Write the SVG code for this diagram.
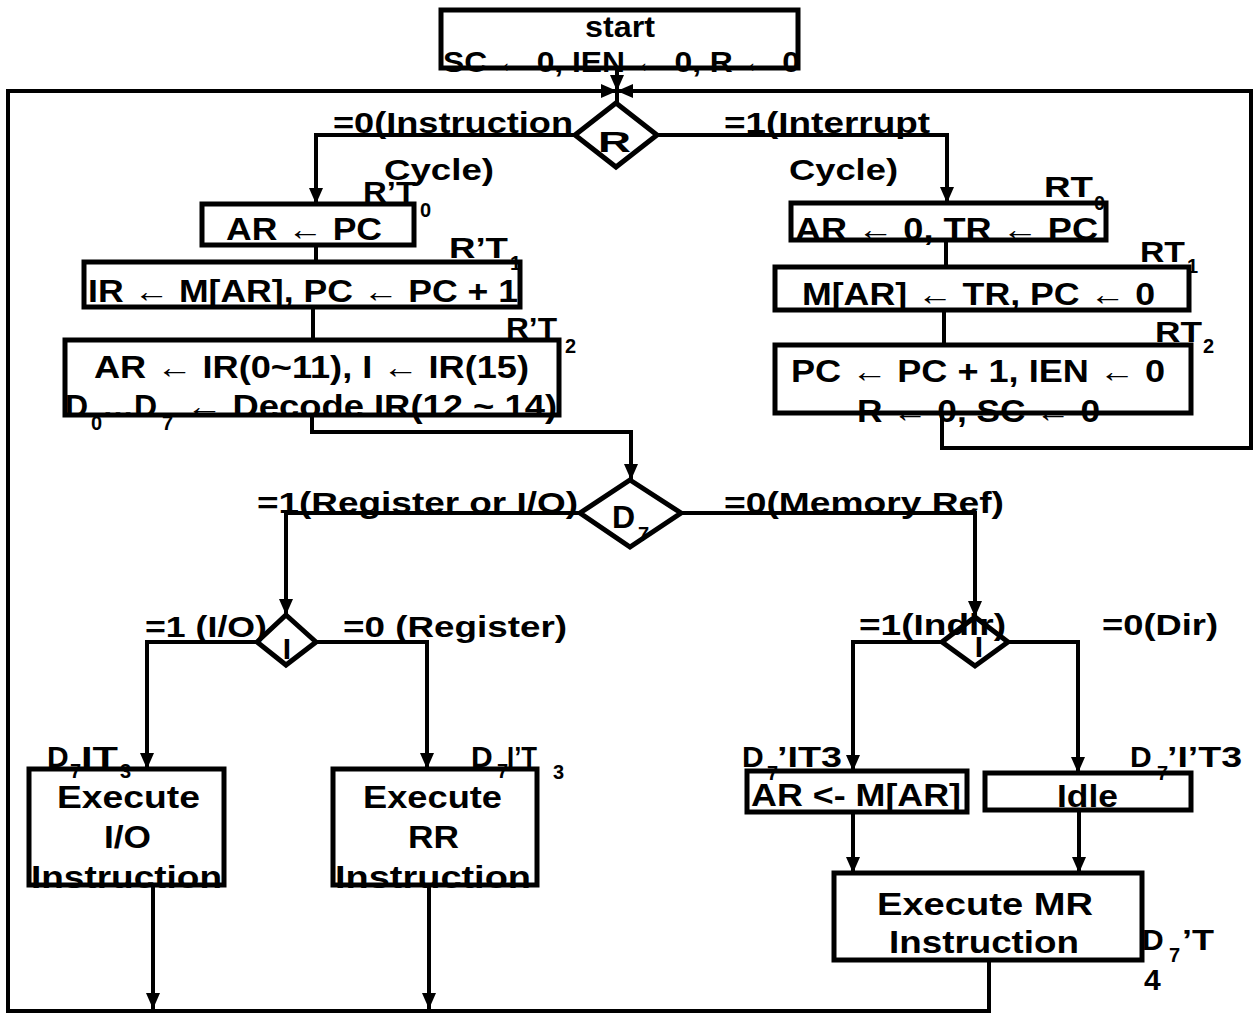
<svg xmlns="http://www.w3.org/2000/svg" width="1259" height="1016" viewBox="0 0 1259 1016">
<style>
text{font-family:"Liberation Sans",Arial,sans-serif;font-weight:bold;fill:#000}
.bt{font-size:32px}
.lb{font-size:30px}
.sub{font-size:20px}
.box{fill:#fff;stroke:#000;stroke-width:5}
.dia{fill:#fff;stroke:#000;stroke-width:5;stroke-linejoin:miter}
.c{fill:none;stroke:#000;stroke-width:4}
.ca{fill:none;stroke:#000;stroke-width:4;marker-end:url(#ah)}
</style>
<defs>
<marker id="ah" markerUnits="userSpaceOnUse" markerWidth="16" markerHeight="14" refX="16" refY="7" orient="auto">
<path d="M0,0 L16,7 L0,14 z" fill="#000"/>
</marker>
</defs>
<rect width="1259" height="1016" fill="#fff"/>
<g id="connectors">
<path class="ca" d="M617 68 V91"/>
<path class="ca" d="M989 960 V1011 H8 V91 H617"/>
<path class="ca" d="M942 413 V448 H1251 V91 H617"/>
<path class="c" d="M617 91 V103"/>
<path class="ca" d="M575 135 H316 V204"/>
<path class="ca" d="M657 135 H947 V203"/>
<path class="c" d="M316 245 V262"/>
<path class="c" d="M313 307 V340"/>
<path class="ca" d="M312 415 V432 H631 V480"/>
<path class="ca" d="M580 513 H286 V615"/>
<path class="ca" d="M681 513 H975 V617"/>
<path class="ca" d="M257 642 H147 V769"/>
<path class="ca" d="M316 642 H427 V769"/>
<path class="ca" d="M942 642 H853 V771"/>
<path class="ca" d="M1008 642 H1078 V773"/>
<path class="ca" d="M153 885 V1009"/>
<path class="ca" d="M429 885 V1009"/>
<path class="ca" d="M853 812 V873"/>
<path class="ca" d="M1079 810 V873"/>
<path class="c" d="M946 240 V267"/>
<path class="c" d="M944 310 V345"/>
</g>
<g id="start">
<rect class="box" x="441" y="10" width="357" height="58"/>
<text class="lb" x="585" y="37" font-size="28" textLength="70" lengthAdjust="spacingAndGlyphs">start</text>
<text class="lb" x="443" y="72" textLength="357" lengthAdjust="spacingAndGlyphs">SC ← 0, IEN ← 0, R ← 0</text>
</g>
<g id="decisionR">
<polygon class="dia" points="616,103 657,135 616,167 575,135"/>
<text class="lb" x="598" y="152" textLength="33" lengthAdjust="spacingAndGlyphs">R</text>
</g>
<g id="labelsR">
<text class="lb" x="333" y="133" textLength="240" lengthAdjust="spacingAndGlyphs">=0(Instruction</text>
<text class="lb" x="384" y="180" textLength="110" lengthAdjust="spacingAndGlyphs">Cycle)</text>
<text class="lb" x="724" y="133" textLength="206" lengthAdjust="spacingAndGlyphs">=1(Interrupt</text>
<text class="lb" x="789" y="180" textLength="109" lengthAdjust="spacingAndGlyphs">Cycle)</text>
</g>
<g id="fetch0">
<rect class="box" x="202" y="204" width="212" height="41"/>
<text class="bt" x="226" y="240" textLength="156" lengthAdjust="spacingAndGlyphs">AR ← PC</text>
<text class="lb" x="363" y="202"><tspan textLength="53" lengthAdjust="spacingAndGlyphs">R’T</tspan><tspan class="sub" x="420" y="217">0</tspan></text>
</g>
<g id="fetch1">
<rect class="box" x="84" y="262" width="436" height="45"/>
<text class="bt" x="88" y="302" font-size="34" textLength="430" lengthAdjust="spacingAndGlyphs">IR ← M[AR], PC ← PC + 1</text>
<text class="lb" x="449" y="258"><tspan textLength="59" lengthAdjust="spacingAndGlyphs">R’T</tspan><tspan class="sub" x="510" y="270">1</tspan></text>
</g>
<g id="decode">
<rect class="box" x="65" y="340" width="494" height="75"/>
<text class="bt" x="94" y="378" textLength="435" lengthAdjust="spacingAndGlyphs">AR ← IR(0~11), I ← IR(15)</text>
<text class="bt" x="65" y="417">D<tspan class="sub" x="91" y="430">0</tspan><tspan x="102" y="417">…D</tspan><tspan class="sub" x="162" y="430">7</tspan><tspan x="186" y="417" textLength="371" lengthAdjust="spacingAndGlyphs">← Decode IR(12 ~ 14)</tspan></text>
<text class="lb" x="506" y="338"><tspan textLength="51" lengthAdjust="spacingAndGlyphs">R’T</tspan><tspan class="sub" x="565" y="353">2</tspan></text>
</g>
<g id="int0">
<rect class="box" x="791" y="203" width="315" height="37"/>
<text class="bt" x="795" y="240" textLength="303" lengthAdjust="spacingAndGlyphs">AR ← 0, TR ← PC</text>
<text class="lb" x="1044" y="197"><tspan textLength="49" lengthAdjust="spacingAndGlyphs">RT</tspan><tspan class="sub" x="1094" y="210">0</tspan></text>
</g>
<g id="int1">
<rect class="box" x="775" y="267" width="414" height="43"/>
<text class="bt" x="802" y="305" textLength="353" lengthAdjust="spacingAndGlyphs">M[AR] ← TR, PC ← 0</text>
<text class="lb" x="1140" y="262"><tspan textLength="45" lengthAdjust="spacingAndGlyphs">RT</tspan><tspan class="sub" x="1187" y="273">1</tspan></text>
</g>
<g id="int2">
<rect class="box" x="775" y="345" width="416" height="68"/>
<text class="bt" x="791" y="382" textLength="374" lengthAdjust="spacingAndGlyphs">PC ← PC + 1, IEN ← 0</text>
<text class="bt" x="857" y="422" textLength="243" lengthAdjust="spacingAndGlyphs">R ← 0, SC ← 0</text>
<text class="lb" x="1155" y="342"><tspan textLength="47" lengthAdjust="spacingAndGlyphs">RT</tspan><tspan class="sub" x="1203" y="353">2</tspan></text>
</g>
<g id="decisionD7">
<polygon class="dia" points="630,480 681,513 630,547 580,513"/>
<text class="bt" x="612" y="528">D<tspan class="sub" x="638" y="541">7</tspan></text>
</g>
<g id="labelsD7">
<text class="lb" x="257" y="513" textLength="321" lengthAdjust="spacingAndGlyphs">=1(Register or I/O)</text>
<text class="lb" x="724" y="513" textLength="280" lengthAdjust="spacingAndGlyphs">=0(Memory Ref)</text>
</g>
<g id="decisionI1">
<polygon class="dia" points="286,615 316,642 286,665 257,642"/>
<text class="lb" x="287" y="659" text-anchor="middle">I</text>
</g>
<g id="labelsI1">
<text class="lb" x="145" y="637" textLength="122" lengthAdjust="spacingAndGlyphs">=1 (I/O)</text>
<text class="lb" x="343" y="637" textLength="224" lengthAdjust="spacingAndGlyphs">=0 (Register)</text>
</g>
<g id="decisionI2">
<polygon class="dia" points="975,617 1008,642 975,666 942,642"/>
<text class="lb" x="979" y="657" text-anchor="middle">I</text>
</g>
<g id="labelsI2">
<text class="lb" x="859" y="635" textLength="147" lengthAdjust="spacingAndGlyphs">=1(Indir)</text>
<text class="lb" x="1102" y="635" textLength="116" lengthAdjust="spacingAndGlyphs">=0(Dir)</text>
</g>
<g id="execIO">
<rect class="box" x="29" y="769" width="195" height="116"/>
<text class="bt" x="57" y="808" textLength="143" lengthAdjust="spacingAndGlyphs">Execute</text>
<text class="bt" x="104" y="848" textLength="47" lengthAdjust="spacingAndGlyphs">I/O</text>
<text class="bt" x="31" y="888" textLength="191" lengthAdjust="spacingAndGlyphs">Instruction</text>
<text class="lb" x="47" y="767">D<tspan class="sub" x="70" y="778">7</tspan><tspan x="81" y="767" textLength="37" lengthAdjust="spacingAndGlyphs">IT</tspan><tspan class="sub" x="120" y="778">3</tspan></text>
</g>
<g id="execRR">
<rect class="box" x="333" y="769" width="204" height="116"/>
<text class="bt" x="363" y="808" textLength="139" lengthAdjust="spacingAndGlyphs">Execute</text>
<text class="bt" x="408" y="848" textLength="51" lengthAdjust="spacingAndGlyphs">RR</text>
<text class="bt" x="335" y="888" textLength="196" lengthAdjust="spacingAndGlyphs">Instruction</text>
<text class="lb" x="471" y="767">D<tspan class="sub" x="497" y="778">7</tspan><tspan x="507" y="767" textLength="30" lengthAdjust="spacingAndGlyphs">I’T</tspan><tspan class="sub" x="553" y="779">3</tspan></text>
</g>
<g id="indirect">
<rect class="box" x="747" y="771" width="220" height="41"/>
<text class="bt" x="751" y="806" textLength="210" lengthAdjust="spacingAndGlyphs">AR &lt;- M[AR]</text>
<text class="lb" x="742" y="767">D<tspan class="sub" x="767" y="780">7</tspan><tspan x="777" y="767" textLength="65" lengthAdjust="spacingAndGlyphs">’IT3</tspan></text>
</g>
<g id="idle">
<rect class="box" x="985" y="773" width="206" height="37"/>
<text class="bt" x="1057" y="807" textLength="61" lengthAdjust="spacingAndGlyphs">Idle</text>
<text class="lb" x="1130" y="767">D<tspan class="sub" x="1157" y="780">7</tspan><tspan x="1167" y="767" textLength="75" lengthAdjust="spacingAndGlyphs">’I’T3</tspan></text>
</g>
<g id="execMR">
<rect class="box" x="834" y="873" width="308" height="87"/>
<text class="bt" x="877" y="915" textLength="216" lengthAdjust="spacingAndGlyphs">Execute  MR</text>
<text class="bt" x="889" y="953" textLength="190" lengthAdjust="spacingAndGlyphs">Instruction</text>
<text class="lb" x="1142" y="950">D<tspan class="sub" x="1169" y="962">7</tspan><tspan x="1182" y="950" textLength="32" lengthAdjust="spacingAndGlyphs">’T</tspan><tspan x="1144" y="990">4</tspan></text>
</g>
</svg>
